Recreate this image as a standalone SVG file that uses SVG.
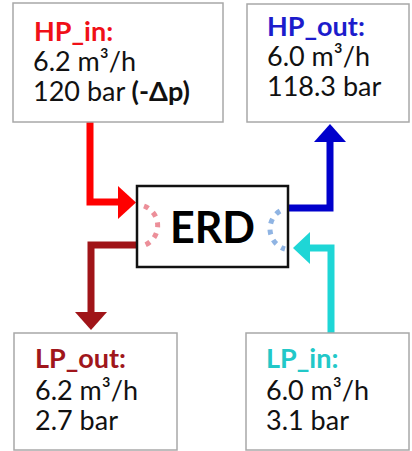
<svg xmlns="http://www.w3.org/2000/svg" width="412" height="451" viewBox="0 0 412 451">
<style>
.box{fill:#fff;stroke:#a8a8a8;stroke-width:1.5}
.t{font-family:Lato,"Liberation Sans",sans-serif;font-size:27px;fill:#111}
.h{font-weight:bold}
.shaft{fill:none;stroke-width:7;stroke-linejoin:miter}
.dots{fill:none;stroke-width:5;stroke-dasharray:5 6}
</style>
<rect width="412" height="451" fill="#fff"/>
<g id="connectors">
  <g id="hp_in_arrow">
    <path class="shaft" stroke="#ff0000" d="M90,122 V202 H119"/>
    <polygon fill="#ff0000" points="118,186 118,219 136,202.5"/>
  </g>
  <g id="hp_out_arrow">
    <path class="shaft" stroke="#0000cc" d="M288,208 H330 V141"/>
    <polygon fill="#0000cc" points="314,142 346,142 330,124"/>
  </g>
  <g id="lp_in_arrow">
    <path class="shaft" stroke="#1ed6d6" d="M331,334 V248 H309"/>
    <polygon fill="#1ed6d6" points="310,232 310,264 293,248"/>
  </g>
  <g id="lp_out_arrow">
    <path class="shaft" stroke="#a01418" d="M137,245 H91 V313"/>
    <polygon fill="#a01418" points="75,312 107,312 91,330"/>
  </g>
</g>
<g id="erd">
  <rect x="137" y="186" width="151" height="81" fill="#fff" stroke="#111" stroke-width="2.5"/>
  <path class="dots" stroke="#ec8f99" d="M144,206 A21,21 0 0 1 142,246"/>
  <path class="dots" stroke="#8fb4e3" d="M280,211 A21,21 0 0 0 285,249"/>
  <text x="212.5" y="243" text-anchor="middle" font-family="Lato,'Liberation Sans',sans-serif" font-weight="bold" font-size="43" fill="#000">ERD</text>
</g>
<g id="hp_in">
  <rect class="box" x="13" y="3" width="210" height="119"/>
  <text class="t h" x="34" y="41" style="fill:#f01018">HP_in:</text>
  <text class="t" x="33" y="71">6.2 m³/h</text>
  <text class="t" x="33" y="101">120 bar <tspan class="h">(-Δp)</tspan></text>
</g>
<g id="hp_out">
  <rect class="box" x="247" y="4" width="162" height="118"/>
  <text class="t h" x="267" y="36" style="fill:#1c1ccc">HP_out:</text>
  <text class="t" x="267" y="66">6.0 m³/h</text>
  <text class="t" x="267" y="96">118.3 bar</text>
</g>
<g id="lp_out">
  <rect class="box" x="14" y="333" width="163" height="117"/>
  <text class="t h" x="35" y="368" style="fill:#a0161c">LP_out:</text>
  <text class="t" x="35" y="400">6.2 m³/h</text>
  <text class="t" x="35" y="430">2.7 bar</text>
</g>
<g id="lp_in">
  <rect class="box" x="246" y="333" width="163" height="117"/>
  <text class="t h" x="266" y="368" style="fill:#22c8c8">LP_in:</text>
  <text class="t" x="266" y="400">6.0 m³/h</text>
  <text class="t" x="266" y="430">3.1 bar</text>
</g>
</svg>
